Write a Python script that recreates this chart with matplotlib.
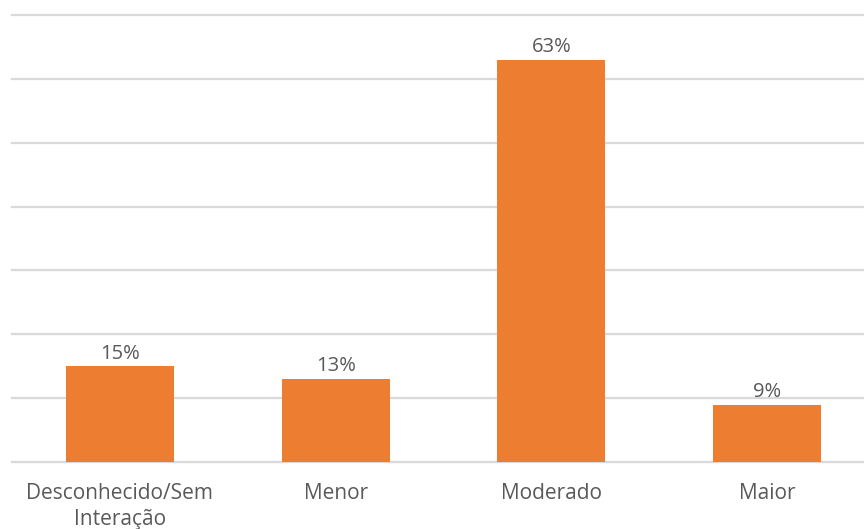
import matplotlib
matplotlib.use("Agg")
import matplotlib.pyplot as plt

categorias = ["Desconhecido/Sem\nInteração", "Menor", "Moderado", "Maior"]
percentuais = [15, 13, 63, 9]

laranja = "#ED7D31"
cinza_texto = "#595959"
cinza_grade = "#D9D9D9"

plt.rcParams["font.family"] = ["Open Sans", "DejaVu Sans"]

fig = plt.figure(figsize=(8.64, 5.29), dpi=100)
ax = fig.add_axes([12 / 864, 67 / 529, 863 / 864, 447 / 529])

x = range(len(categorias))
barras = ax.bar(x, percentuais, width=0.5, color=laranja, zorder=3)

for b, v in zip(barras, percentuais):
    ax.text(b.get_x() + b.get_width() / 2, v + 0.4, f"{v}%", ha="center", va="bottom",
            fontsize=14.5, color=cinza_texto)

ax.set_xlim(-0.5, 3.5)
ax.set_ylim(0, 70)
ax.set_yticks(range(0, 71, 10))
ax.yaxis.grid(True, color=cinza_grade, linewidth=1.6, zorder=0)
for gl in ax.get_ygridlines():
    gl.set_clip_on(False)
ax.tick_params(axis="y", left=False, labelleft=False)
ax.tick_params(axis="x", length=0, pad=15, labelsize=15, labelcolor=cinza_texto)
ax.set_xticks(list(x))
ax.set_xticklabels(categorias, linespacing=1.3)
for s in ax.spines.values():
    s.set_visible(False)

fig.savefig("out.png", dpi=100)
